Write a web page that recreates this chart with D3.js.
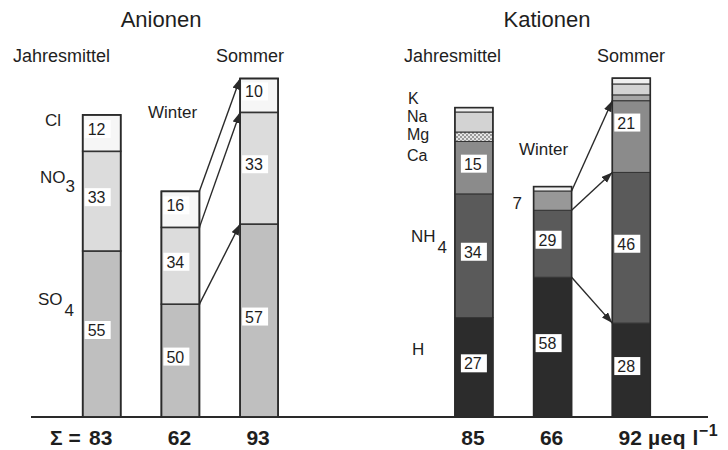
<!DOCTYPE html>
<html>
<head>
<meta charset="utf-8">
<script src="https://cdn.jsdelivr.net/npm/d3@7"></script>
<style>
  body { margin: 0; background: #fff; }
  text { font-family: "Liberation Sans", Arial, Helvetica, sans-serif; fill: #1e1e1e; }
</style>
</head>
<body>
<script>
// ---------------- data ----------------
const barNames = ["Jahresmittel", "Winter", "Sommer"];

// Anionen, segment heights in µeq/l (bottom -> top)
const anionIons = ["SO4", "NO3", "Cl"];
const anionSO4 = [45.6, 31.0, 53.0];
const anionNO3 = [27.4, 21.1, 30.7];
const anionCl  = [10.0, 9.9, 9.3];
const anionLabelSO4 = ["55", "50", "57"];
const anionLabelNO3 = ["33", "34", "33"];
const anionLabelCl  = ["12", "16", "10"];
const anionTotals = [83, 62, 93];

// Kationen, segment heights in µeq/l (bottom -> top)
const cationIons = ["H", "NH4", "Ca", "Mg", "Na", "K"];
const cationH   = [27.3, 38.4, 25.8];
const cationNH4 = [34.0, 18.4, 41.4];
const cationCa  = [14.4, 5.3, 19.7];
const cationMg  = [2.6, 0.0, 1.6];
const cationNa  = [5.5, 0.0, 3.0];
const cationK   = [1.2, 1.2, 1.6];
const cationLabelH   = ["27", "58", "28"];
const cationLabelNH4 = ["34", "29", "46"];
const cationLabelCa  = ["15", "7", "21"];
const cationTotals = [85, 66, 92];

// ---------------- layout ----------------
const W = 728, H = 450;
const svg = d3.select("body").append("svg").attr("width", W).attr("height", H);

const y = d3.scaleLinear().domain([0, 93]).range([417, 78.5]);
const xAn = d3.scaleBand().domain(barNames).range([82.7, 278.1]).paddingInner(0.517).paddingOuter(0);
const xCa = d3.scaleBand().domain(barNames).range([454.9, 650.3]).paddingInner(0.517).paddingOuter(0);

const colors = {
  SO4: "#bfbfbf", NO3: "#dcdcdc", Cl: "#f6f6f6",
  H: "#2c2c2c", NH4: "#5a5a5a", Ca: "#8b8b8b", Mg: "url(#checker)", Na: "#d3d3d3", K: "#f0f0f0"
};
const colorOverride = { "Sommer-Mg": "#a6a6a6", "Winter-Ca": "#989898" };

const defs = svg.append("defs");
const pat = defs.append("pattern").attr("id", "checker").attr("width", 4).attr("height", 4)
  .attr("patternUnits", "userSpaceOnUse");
pat.append("rect").attr("width", 4).attr("height", 4).attr("fill", "#e6e6e6");
pat.append("rect").attr("width", 2).attr("height", 2).attr("fill", "#9a9a9a");
pat.append("rect").attr("x", 2).attr("y", 2).attr("width", 2).attr("height", 2).attr("fill", "#9a9a9a");

defs.append("marker").attr("id", "arrow").attr("markerUnits", "userSpaceOnUse")
  .attr("markerWidth", 12).attr("markerHeight", 10).attr("refX", 11).attr("refY", 4)
  .attr("orient", "auto")
  .append("path").attr("d", "M0,0 L11,4 L0,8 Z").attr("fill", "#2a2a2a");

function buildStacks(ions, series, labels) {
  return barNames.map((b, i) => {
    let cum = 0;
    return ions.map((ion, k) => {
      const v = series[k][i];
      const seg = { bar: b, idx: i, ion, y0: cum, y1: cum + v, label: labels[k] ? labels[k][i] : null };
      cum += v;
      return seg;
    });
  });
}

const anStacks = buildStacks(anionIons, [anionSO4, anionNO3, anionCl],
  [anionLabelSO4, anionLabelNO3, anionLabelCl]);
const caStacks = buildStacks(cationIons, [cationH, cationNH4, cationCa, cationMg, cationNa, cationK],
  [cationLabelH, cationLabelNH4, cationLabelCa, null, null, null]);

// axis line
svg.append("line").attr("x1", 31).attr("x2", 708).attr("y1", y(0)).attr("y2", y(0))
  .attr("stroke", "#2a2a2a").attr("stroke-width", 2);

const labelShift = { "Sommer-Ca": -10 };

function drawPanel(stacks, x, isCation) {
  const g = svg.append("g");
  stacks.forEach(stack => {
    const bx = x(stack[0].bar), bw = x.bandwidth();
    const top = stack[stack.length - 1].y1;
    stack.forEach(s => {
      if (s.y1 - s.y0 <= 0) return;
      g.append("rect").attr("x", bx).attr("width", bw)
        .attr("y", y(s.y1)).attr("height", y(s.y0) - y(s.y1))
        .attr("fill", colorOverride[s.bar + "-" + s.ion] || colors[s.ion])
        .attr("stroke", "#333").attr("stroke-width", isCation ? 1 : 1.6);
    });
    g.append("rect").attr("x", bx).attr("width", bw).attr("y", y(top)).attr("height", y(0) - y(top))
      .attr("fill", "none").attr("stroke", "#2a2a2a").attr("stroke-width", 1.6);
    // value boxes
    stack.forEach(s => {
      if (!s.label) return;
      if (isCation && s.bar === "Winter" && s.ion === "Ca") {
        g.append("text").attr("x", bx - 21).attr("y", y(s.y1) + 18)
          .attr("font-size", 17).text(s.label);
        return;
      }
      const mid = (y(s.y0) + y(s.y1)) / 2 - 4 + (isCation ? (labelShift[s.bar + "-" + s.ion] || 0) : 0);
      const inset = (isCation && s.bar === "Jahresmittel") ? 6 : 2;
      g.append("rect").attr("x", bx + inset).attr("y", mid - 9).attr("width", 26).attr("height", 18)
        .attr("fill", "#fff");
      g.append("text").attr("x", bx + inset + 3).attr("y", mid + 6)
        .attr("font-size", 16).text(s.label);
    });
  });
  // arrows Winter -> Sommer
  const w = stacks[1], so = stacks[2];
  [0, 1, 2].forEach(k => {
    g.append("line")
      .attr("x1", x("Winter") + x.bandwidth()).attr("y1", y(w[k].y1))
      .attr("x2", x("Sommer")).attr("y2", y(so[k].y1))
      .attr("stroke", "#2a2a2a").attr("stroke-width", 1.4)
      .attr("marker-end", "url(#arrow)");
  });
}

drawPanel(anStacks, xAn, false);
drawPanel(caStacks, xCa, true);

// titles
svg.append("text").attr("x", 161).attr("y", 27).attr("font-size", 22).attr("text-anchor", "middle").text("Anionen");
svg.append("text").attr("x", 547).attr("y", 27).attr("font-size", 22).attr("text-anchor", "middle").text("Kationen");
svg.append("text").attr("x", 13).attr("y", 62).attr("font-size", 18).text("Jahresmittel");
svg.append("text").attr("x", 216).attr("y", 62).attr("font-size", 18).text("Sommer");
svg.append("text").attr("x", 404).attr("y", 62).attr("font-size", 18).text("Jahresmittel");
svg.append("text").attr("x", 597).attr("y", 62).attr("font-size", 18).text("Sommer");
svg.append("text").attr("x", 148).attr("y", 118).attr("font-size", 17).text("Winter");
svg.append("text").attr("x", 519).attr("y", 155).attr("font-size", 17).text("Winter");

// ion labels (anions)
svg.append("text").attr("x", 45).attr("y", 126).attr("font-size", 17).text("Cl");
const no3 = svg.append("text").attr("x", 40).attr("y", 183).attr("font-size", 17);
no3.append("tspan").text("NO");
no3.append("tspan").attr("dx", 0).attr("dy", 9).text("3");
const so4 = svg.append("text").attr("x", 38).attr("y", 305).attr("font-size", 17);
so4.append("tspan").text("SO");
so4.append("tspan").attr("dx", 2).attr("dy", 11).text("4");

// ion labels (cations)
svg.append("text").attr("x", 408).attr("y", 104).attr("font-size", 16).text("K");
svg.append("text").attr("x", 407).attr("y", 122).attr("font-size", 16).text("Na");
svg.append("text").attr("x", 407).attr("y", 140).attr("font-size", 16).text("Mg");
svg.append("text").attr("x", 407).attr("y", 161).attr("font-size", 16).text("Ca");
const nh4 = svg.append("text").attr("x", 411).attr("y", 242).attr("font-size", 17);
nh4.append("tspan").text("NH");
nh4.append("tspan").attr("dx", 2).attr("dy", 11).text("4");
svg.append("text").attr("x", 412).attr("y", 355).attr("font-size", 17).text("H");

// totals row
const totFont = "'Liberation Sans Narrow', 'DejaVu Sans Condensed', sans-serif";
function totals(x, vals) {
  barNames.forEach((b, i) => {
    svg.append("text").attr("x", x(b) + x.bandwidth() / 2 - 1).attr("y", 445)
      .attr("font-size", 21).attr("font-weight", "bold").attr("font-family", totFont)
      .attr("text-anchor", "middle").text(vals[i]);
  });
}
totals(xAn, anionTotals);
totals(xCa, cationTotals);
svg.append("text").attr("x", 50).attr("y", 445).attr("font-size", 21).attr("font-weight", "bold")
  .attr("font-family", totFont).text("Σ =");
const unit = svg.append("text").attr("x", 648).attr("y", 445).attr("font-size", 21).attr("font-weight", "bold")
  .attr("font-family", totFont).attr("letter-spacing", 0.5);
unit.append("tspan").text("µeq l");
unit.append("tspan").attr("dy", -9).attr("font-size", 16).text("−1");
</script>
</body>
</html>
